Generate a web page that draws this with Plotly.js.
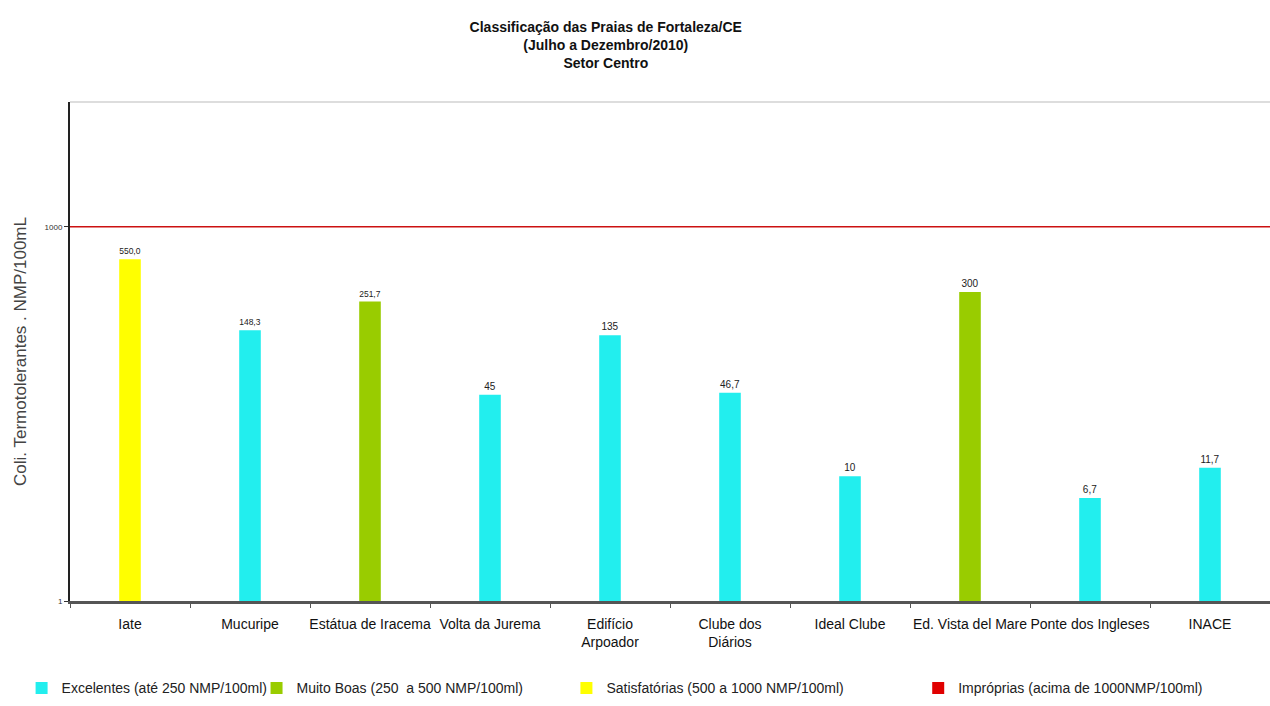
<!DOCTYPE html>
<html>
<head>
<meta charset="utf-8">
<script src="https://cdn.plot.ly/plotly-3.0.1.min.js"></script>
<style>html,body{margin:0;padding:0;background:#fff}#chart{width:1270px;height:706px}</style>
</head>
<body>
<div id="chart"></div>
<script>
// ---- data ----
const categories = ["Iate","Mucuripe","Estátua de Iracema","Volta da Jurema","Edifício<br>Arpoador","Clube dos<br>Diários","Ideal Clube","Ed. Vista del Mare","Ponte dos Ingleses","INACE"];
const values = [550.0, 148.3, 251.7, 45, 135, 46.7, 10, 300, 6.7, 11.7];
const valueLabels = ["550,0","148,3","251,7","45","135","46,7","10","300","6,7","11,7"];
const classes = ["Satisfatórias","Excelentes","Muito Boas","Excelentes","Excelentes","Excelentes","Excelentes","Muito Boas","Excelentes","Excelentes"];
const classNames = ["Excelentes","Muito Boas","Satisfatórias","Impróprias"];
const legendLabels = ["Excelentes (até 250 NMP/100ml)","Muito Boas (250  a 500 NMP/100ml)","Satisfatórias (500 a 1000 NMP/100ml)","Impróprias (acima de 1000NMP/100ml)"];
const limitValue = 1000;
const yTickValues = [1, 1000];
const yTickLabels = ["1", "1000"];

// ---- styles ----
const classColors = {"Excelentes":"#22EEEE","Muito Boas":"#99CC00","Satisfatórias":"#FFFF00","Impróprias":"#E00000"};
const legendIds = ["legend","legend2","legend3","legend4"];
const legendX = [0.017, 0.202, 0.446, 0.723];

const traces = classNames.map((cls, k) => {
  const xs = [], ys = [], ts = [];
  categories.forEach((c, i) => {
    if (classes[i] === cls) { xs.push(c); ys.push(values[i]); ts.push(valueLabels[i]); }
  });
  return {
    type: "bar",
    name: legendLabels[k],
    legend: legendIds[k],
    x: xs.length ? xs : [categories[0]],
    y: xs.length ? ys : [null],
    text: ts,
    textposition: "outside",
    cliponaxis: false,
    textfont: {family: "Liberation Sans, Arial", size: 10, color: "#222"},
    marker: {color: classColors[cls]},
    width: 0.18,
    hoverinfo: "x+y"
  };
});

const layout = {
  width: 1270, height: 706,
  paper_bgcolor: "#fff", plot_bgcolor: "#fff",
  margin: {l: 70, r: 0, t: 102, b: 105, autoexpand: false},
  barmode: "overlay",
  showlegend: true,
  font: {family: "Liberation Sans, Arial, sans-serif", color: "#222"},
  title: {
    text: "<b>Classificação das Praias de Fortaleza/CE<br>(Julho a Dezembro/2010)<br>Setor Centro</b>",
    x: 0.477, xanchor: "center", yref: "container", y: 0.955, yanchor: "middle",
    font: {family: "Liberation Sans, Arial", size: 14, color: "#111"}
  },
  xaxis: {
    type: "category",
    categoryorder: "array", categoryarray: categories,
    range: [-0.5, categories.length - 0.5],
    showline: true, linecolor: "#555", linewidth: 3,
    ticks: "outside", tickson: "boundaries", ticklen: 4, tickcolor: "#555",
    ticklabelstandoff: 8,
    tickfont: {family: "Liberation Sans, Arial", size: 14, color: "#111"},
    tickangle: 0,
    showgrid: false, zeroline: false, mirror: false
  },
  yaxis: {
    type: "log",
    range: [0, 4],
    tickvals: yTickValues, ticktext: yTickLabels,
    ticks: "outside", ticklen: 4, tickcolor: "#333",
    tickfont: {size: 8, color: "#333"},
    showline: true, linecolor: "#222", linewidth: 2,
    showgrid: false, zeroline: false,
    title: {text: "Coli. Termotolerantes . NMP/100mL", font: {size: 17, color: "#444"}, standoff: 14}
  },
  shapes: [
    {type: "line", xref: "paper", x0: 0, x1: 1, yref: "y", y0: limitValue, y1: limitValue, line: {color: "#CC1111", width: 1.5}},
    {type: "line", xref: "paper", x0: 0, x1: 1, yref: "paper", y0: 1, y1: 1, line: {color: "#bbb", width: 1}}
  ]
};
legendIds.forEach((id, k) => {
  layout[id] = {
    orientation: "h", xref: "container", x: legendX[k], xanchor: "left",
    yref: "container", y: 0.025, yanchor: "middle",
    font: {family: "Liberation Sans, Arial", size: 14, color: "#222"},
    itemwidth: 30, bgcolor: "rgba(0,0,0,0)"
  };
});

Plotly.newPlot("chart", traces, layout, {displayModeBar: false, staticPlot: true});
</script>
</body>
</html>
